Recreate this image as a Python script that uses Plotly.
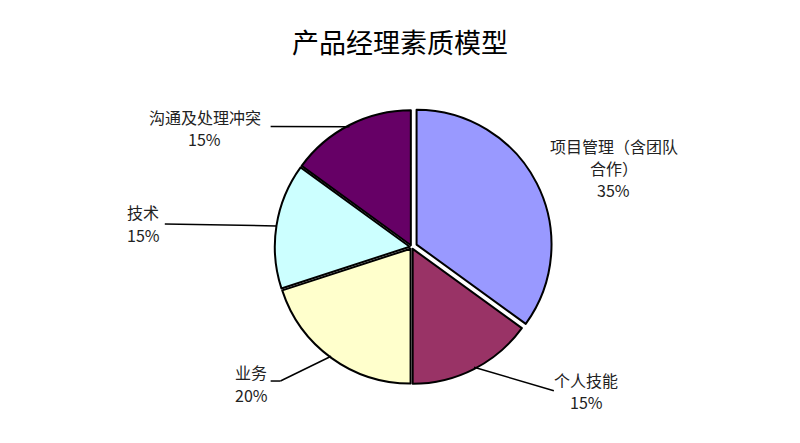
import math
import plotly.graph_objects as go

# 数据
labels = ["项目管理（含团队合作）", "个人技能", "业务", "技术", "沟通及处理冲突"]
values = [35, 15, 20, 15, 15]
colors = ["#9999FF", "#993366", "#FFFFCC", "#CCFFFF", "#660066"]
pulls = [0.04, 0.015, 0.015, 0.015, 0.015]
label_lines = [["项目管理（含团队", "合作）", "35%"], ["个人技能", "15%"], ["业务", "20%"],
               ["技术", "15%"], ["沟通及处理冲突", "15%"]]

W, H = 800, 443
cx, cy, r = 412, 248, 140  # 饼图中心和半径（像素）
box = 2 * r * (1 + max(pulls))
line_gap = 23

fig = go.Figure(go.Pie(
    labels=labels, values=values, sort=False, direction="clockwise", rotation=0,
    marker=dict(colors=colors, line=dict(color="black", width=2)),
    pull=pulls, textinfo="none", hoverinfo="label+percent",
    domain=dict(x=[(cx - box / 2) / W, (cx + box / 2) / W],
                y=[(H - cy - box / 2) / H, (H - cy + box / 2) / H]),
))

def px(x, y):
    return x / W, 1 - y / H

# 标签首行位置（像素）和引线拐点
label_pos = [(618, 143), (590, 386), (248, 378), (138, 212), (201, 113)]
elbows = [None, (557, 397), (278, 387), (160, 224), (268, 123)]

total = sum(values)
cum = 0
for i, v in enumerate(values):
    mid = (cum + v / 2) / total * 2 * math.pi
    cum += v
    lx, ly = label_pos[i]
    for k, t in enumerate(label_lines[i]):
        ax, ay = px(lx, ly + k * line_gap)
        fig.add_annotation(x=ax, y=ay, xref="paper", yref="paper",
                           xanchor="center", yanchor="middle",
                           text=t, showarrow=False,
                           font=dict(size=16, color="#222222"))
    if elbows[i] is None:
        continue
    ex = cx + r * math.sin(mid)
    ey = cy - r * math.cos(mid)
    x0, y0 = px(ex, ey)
    x1, y1 = px(*elbows[i])
    fig.add_shape(type="line", xref="paper", yref="paper", x0=x0, y0=y0, x1=x1, y1=y1,
                  line=dict(color="black", width=1.5))
    if i == 2:
        x2, y2 = px(268, 387)
        fig.add_shape(type="line", xref="paper", yref="paper", x0=x1, y0=y1, x1=x2, y1=y2,
                      line=dict(color="black", width=1.5))

fig.update_layout(
    showlegend=False,
    margin=dict(l=0, r=0, t=0, b=0),
    paper_bgcolor="white", plot_bgcolor="white",
    font=dict(family="Noto Sans CJK SC"),
    title=dict(text="产品经理素质模型", x=0.5, y=1 - 37 / H, xanchor="center", yanchor="middle",
               font=dict(size=27, color="black")),
)

fig.write_html("out.html")
